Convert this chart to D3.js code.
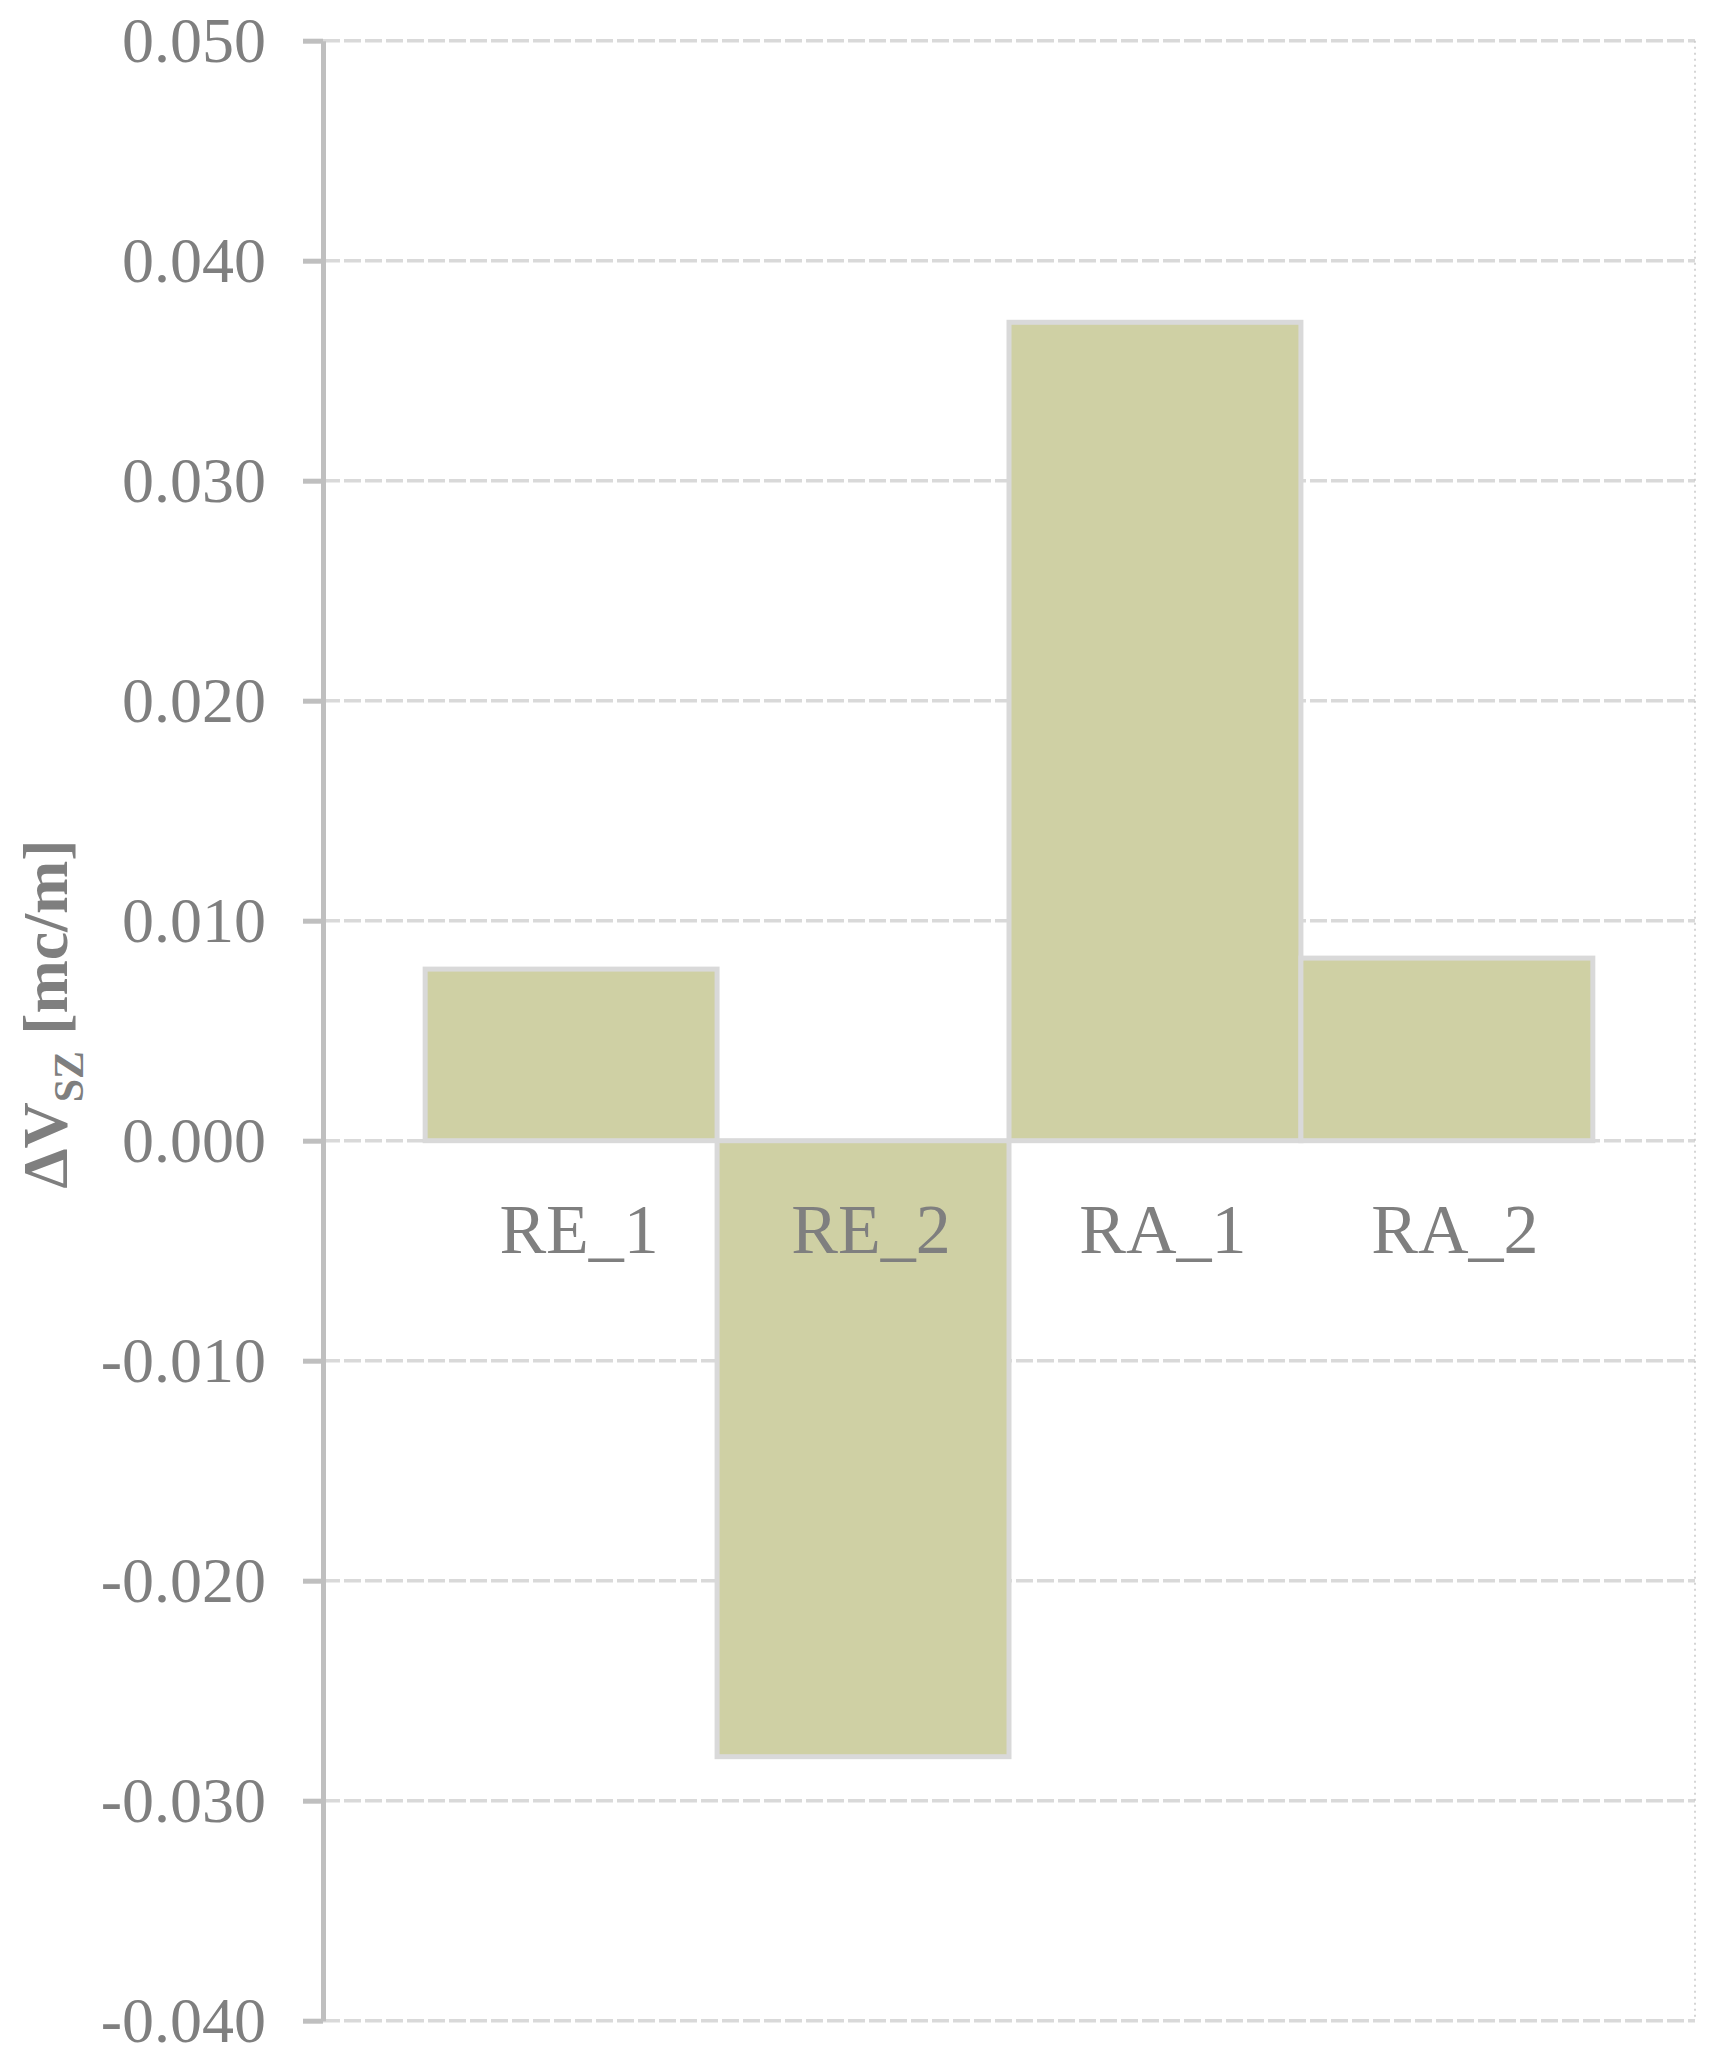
<!DOCTYPE html>
<html>
<head>
<meta charset="utf-8">
<script src="https://cdn.jsdelivr.net/npm/d3@7"></script>
<style>
  html, body { margin: 0; padding: 0; background: #ffffff; }
  svg { display: block; }
  text { font-family: "Liberation Serif", "Times New Roman", serif; }
</style>
</head>
<body>
<svg id="chart" width="1731" height="2062"></svg>
<script>
// ---- data ----
const categories = ["RE_1", "RE_2", "RA_1", "RA_2"];
const values = [0.0078, -0.0280, 0.0372, 0.0083];
const tickValues = [0.050, 0.040, 0.030, 0.020, 0.010, 0.000, -0.010, -0.020, -0.030, -0.040];
const yDomain = [-0.040, 0.050];

// ---- layout ----
const plot = { left: 323, right: 1695, top: 40.7, bottom: 2020.7 };
const gray = "#7f7f7f";
const axisColor = "#bfbfbf";
const gridColor = "#d9d9d9";
const barFill = "#cfd0a4";
const barStroke = "#d9d9d9";

const svg = d3.select("#chart");

const y = d3.scaleLinear().domain(yDomain).range([plot.bottom, plot.top]);
const x = d3.scaleBand().domain(categories).range([plot.left, plot.right])
  .paddingInner(0).paddingOuter(0.35);

// grid lines
svg.append("g").selectAll("line").data(tickValues).join("line")
  .attr("x1", plot.left).attr("x2", plot.right)
  .attr("y1", d => y(d)).attr("y2", d => y(d))
  .attr("stroke", gridColor).attr("stroke-width", 3.5)
  .attr("stroke-dasharray", "17,4");

// right border (dotted)
svg.append("line")
  .attr("x1", plot.right).attr("x2", plot.right)
  .attr("y1", plot.top).attr("y2", plot.bottom)
  .attr("stroke", "#c8c8c8").attr("stroke-width", 1.5)
  .attr("stroke-dasharray", "2,4");

// bars
svg.append("g").selectAll("rect").data(categories).join("rect")
  .attr("x", d => x(d))
  .attr("width", x.bandwidth())
  .attr("y", (d, i) => y(Math.max(0, values[i])))
  .attr("height", (d, i) => Math.abs(y(values[i]) - y(0)))
  .attr("fill", barFill)
  .attr("stroke", barStroke)
  .attr("stroke-width", 5);

// y axis
const fmt = d3.format(".3f");
const yAxis = d3.axisLeft(y).tickValues(tickValues)
  .tickFormat(d => fmt(d).replace("\u2212", "-"))
  .tickSize(20).tickSizeOuter(0).tickPadding(37);
const gy = svg.append("g").attr("transform", `translate(${plot.left},0)`).call(yAxis);
gy.attr("font-family", null).attr("font-size", null);
gy.select(".domain").attr("stroke", axisColor).attr("stroke-width", 5);
gy.selectAll(".tick line").attr("stroke", axisColor).attr("stroke-width", 5);
gy.selectAll(".tick text")
  .attr("fill", gray)
  .style("font-family", '"Liberation Serif", "Times New Roman", serif')
  .style("font-size", "64px");

// category labels
svg.append("g").selectAll("text").data(categories).join("text")
  .attr("x", d => x(d) + x.bandwidth() / 2 + 8)
  .attr("y", y(0) + 112)
  .attr("text-anchor", "middle")
  .attr("fill", gray)
  .style("font-size", "70px")
  .text(d => d);

// y axis title
const title = svg.append("text")
  .attr("transform", `translate(67,1014) rotate(-90)`)
  .attr("text-anchor", "middle")
  .attr("fill", gray)
  .style("font-size", "64px")
  .style("font-weight", "bold");
title.append("tspan").text("ΔV");
title.append("tspan").attr("dy", 16).style("font-size", "42px").text("SZ");
title.append("tspan").attr("dy", -16).text(" [mc/m]");
</script>
</body>
</html>
